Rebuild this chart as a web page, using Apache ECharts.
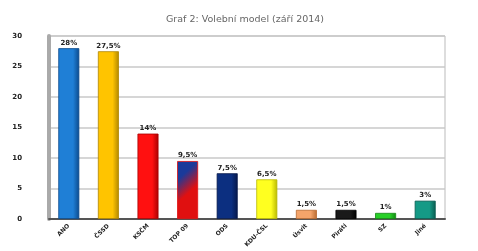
<!DOCTYPE html>
<html>
<head>
<meta charset="utf-8">
<script src="https://cdn.jsdelivr.net/npm/echarts@6/dist/echarts.min.js"></script>
<style>
  html, body { margin: 0; padding: 0; background: #fff; }
  #chart { width: 478px; height: 251px; }
</style>
</head>
<body>
<div id="chart"></div>
<script>
const parties = ['ANO', 'ČSSD', 'KSČM', 'TOP 09', 'ODS', 'KDU-ČSL', 'Úsvit', 'Piráti', 'SZ', 'Jiné']
const votes = [28, 27.5, 14, 9.5, 7.5, 6.5, 1.5, 1.5, 1, 3]
const yTicks = [0, 5, 10, 15, 20, 25, 30]

// barva vlevo, barva vpravo (3D dojem)
const colorsLight = ['#1f7fd6', '#ffc400', '#ff1010', '#1a3a9a', '#0c2f80', '#ffff20', '#f4a46a', '#1a1a1a', '#28d028', '#159a86']
const colorsDark = ['#0b4a8c', '#b08600', '#a80000', '#e01010', '#06184a', '#b8b800', '#b86a30', '#000000', '#128812', '#0a5c50']

function barColor(i) {
    return {
        type: 'linear', x: 0, y: 0, x2: 1, y2: i == 3 ? 0.4 : 0,
        colorStops: [
            { offset: 0, color: colorsLight[i] },
            { offset: i == 3 ? 0.45 : 0.7, color: colorsLight[i] },
            { offset: 1, color: colorsDark[i] }
        ]
    }
}

function fmt(v) {
    return String(v).replace('.', ',') + '%'
}

var dom = document.getElementById('chart')
var myChart = echarts.init(dom, null, { renderer: 'canvas' })

var option = {
    animation: false,
    title: {
        text: 'Graf 2: Volební model (září 2014)',
        left: 240,
        textAlign: 'center',
        top: 10,
        textStyle: { fontSize: 9.5, fontWeight: 'normal', color: '#666', fontFamily: 'DejaVu Sans' }
    },
    grid: { left: 49, right: 33, top: 36, bottom: 32, show: true, borderColor: '#bbb', borderWidth: 1 },
    xAxis: {
        type: 'category',
        data: parties,
        axisLine: { lineStyle: { color: '#555', width: 2 } },
        axisTick: { show: false },
        axisLabel: { rotate: 45, fontSize: 6, fontWeight: 'bold', color: '#222', margin: 6, fontFamily: 'DejaVu Sans' }
    },
    yAxis: {
        type: 'value',
        min: 0,
        max: yTicks[yTicks.length - 1],
        interval: 5,
        axisLine: { show: true, lineStyle: { color: '#aaa', width: 4 } },
        axisTick: { show: false },
        splitLine: { lineStyle: { color: '#c8c8c8', width: 1.5 } },
        axisLabel: { fontSize: 7, fontWeight: 'bold', color: '#222', margin: 27, fontFamily: 'DejaVu Sans' }
    },
    series: [{
        type: 'bar',
        barWidth: 21,
        data: votes.map((v, i) => ({
            value: v,
            itemStyle: { color: barColor(i), borderColor: colorsDark[i], borderWidth: 0.8 }
        })),
        label: {
            show: true,
            position: 'top',
            distance: 2,
            fontSize: 7,
            fontWeight: 'bold',
            color: '#222',
            fontFamily: 'DejaVu Sans',
            formatter: p => fmt(p.value)
        }
    }]
}

option && myChart.setOption(option)
</script>
</body>
</html>
